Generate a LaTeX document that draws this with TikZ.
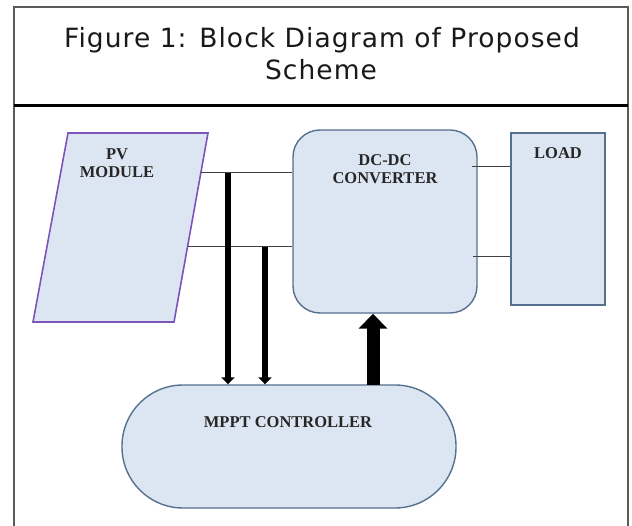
\documentclass[tikz,border=0pt]{standalone}
\usepackage{fontspec}
\setmainfont{Liberation Serif}
\newfontfamily\titlefont[LetterSpace=4]{DejaVu Sans}
\usetikzlibrary{arrows.meta}
\definecolor{boxfill}{HTML}{DCE6F2}
\definecolor{boxline}{HTML}{56708F}
\definecolor{pvline}{RGB}{125,85,185}
\definecolor{frameline}{HTML}{5A5A5A}
\tikzset{
  blockbox/.style={draw=boxline, fill=boxfill, line width=1.4pt, inner sep=0pt},
  lbl/.style={font=\fontsize{16.5}{18.5}\selectfont\bfseries, align=center, inner sep=0pt, text=black!85},
  ttl/.style={font=\titlefont\fontsize{26.5}{30}\selectfont, anchor=base, inner sep=0pt, text=black!90},
  wire/.style={draw=black!75, line width=1pt},
  sense/.style={line width=6pt, -{Triangle[width=13pt,length=7pt]}},
  ctrl/.style={line width=13pt, -{Triangle[width=28pt,length=15pt]}}
}
\begin{document}
\begin{tikzpicture}[x=1pt,y=-1pt]
\useasboundingbox (0,0) rectangle (632,526);
% frame
\draw[frameline, line width=1.5pt] (14,526) -- (14,7) -- (628,7) -- (628,526);
\draw[black, line width=2.5pt] (14,105.5) -- (628,105.5);
\node[ttl] (t1) at (322,48) {Figure 1: Block Diagram of Proposed};
\node[ttl] (t2) at (321,80) {Scheme};
% PV module
\coordinate (pvA) at (68,133);
\coordinate (pvB) at (208,133);
\coordinate (pvC) at (174,322);
\coordinate (pvD) at (33,322);
\draw[pvline, fill=boxfill, line width=1.6pt] (pvA) -- (pvB) -- (pvC) -- (pvD) -- cycle;
\node[lbl] (pvt) at (117,163) {PV\\MODULE};
% DC-DC converter
\node[blockbox, rounded corners=27pt, minimum width=184pt, minimum height=183pt] (dc) at (385,221.5) {};
\node[lbl] (dct) at (385,169) {DC-DC\\CONVERTER};
% load
\node[blockbox, minimum width=94pt, minimum height=172pt] (load) at (558,219) {};
\node[lbl] (loadt) at (558,153) {LOAD};
% MPPT
\node[blockbox, rounded corners=61pt, minimum width=334pt, minimum height=123pt] (mppt) at (289,446.5) {};
\node[lbl] (mpptt) at (288,422) {MPPT CONTROLLER};
% wires PV -> DC
\coordinate (p1) at (201,173);
\coordinate (p2) at (187.5,247);
\coordinate (j1) at (228,173);
\coordinate (j2) at (265,247);
\draw[wire] (p1) -- (p1 -| dc.west);
\draw[wire] (p2) -- (p2 -| dc.west);
% wires DC -> load
\coordinate (q1) at (472,167);
\coordinate (q2) at (473,257);
\draw[wire] (q1) -- (q1 -| load.west);
\draw[wire] (q2) -- (q2 -| load.west);
% sensing arrows
\draw[sense] (j1) -- (j1 |- mppt.north);
\draw[sense] (j2) -- (j2 |- mppt.north);
% control arrow
\coordinate (c1) at (373,385);
\draw[ctrl] (c1) -- (c1 |- dc.south);
\end{tikzpicture}
\end{document}
